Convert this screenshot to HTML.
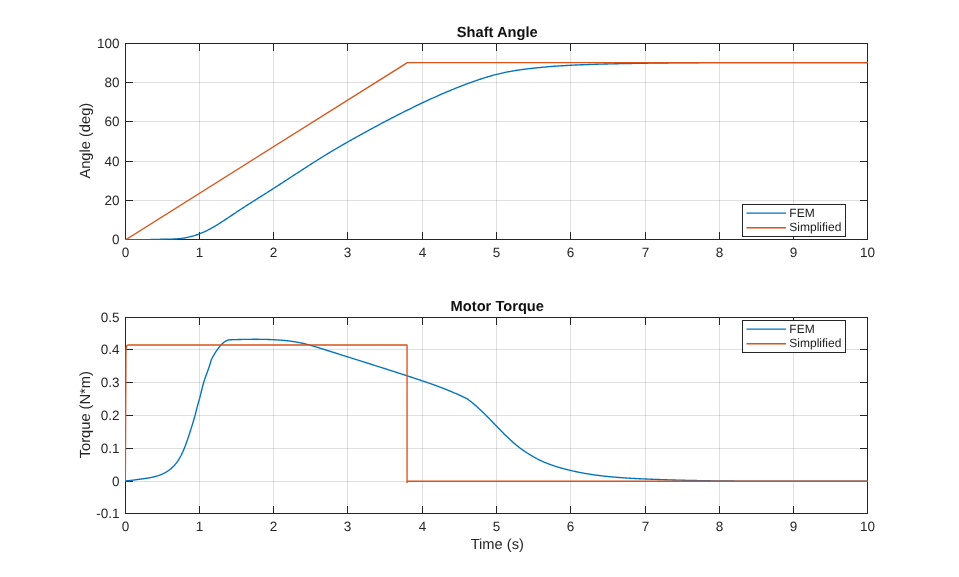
<!DOCTYPE html>
<html lang="en"><head><meta charset="utf-8"><title>Shaft Angle / Motor Torque</title>
<style>
html,body{margin:0;padding:0;background:#fff;}
body{width:959px;height:577px;overflow:hidden;font-family:"Liberation Sans", sans-serif;}
svg{display:block;will-change:transform;}
svg text{font-family:"Liberation Sans", sans-serif;text-rendering:geometricPrecision;}
.tk{font-size:13.5px;fill:#262626;}
.lb{font-size:14.67px;fill:#262626;}
.ti{font-size:14.67px;font-weight:bold;fill:#111;}
.lg{font-size:12px;fill:#1a1a1a;}
</style></head><body>
<svg width="959" height="577" viewBox="0 0 959 577" role="img" aria-label="Shaft Angle and Motor Torque versus Time, FEM and Simplified models">
<rect x="0" y="0" width="959" height="577" fill="#ffffff"/>
<!-- axes 1: Shaft Angle -->
<clipPath id="clip1"><rect x="125.0" y="43.0" width="743.0" height="197.0"/></clipPath>
<g stroke="#262626" stroke-opacity="0.15" stroke-width="1" shape-rendering="crispEdges">
<line x1="199.5" y1="43.5" x2="199.5" y2="239.5"/>
<line x1="273.5" y1="43.5" x2="273.5" y2="239.5"/>
<line x1="347.5" y1="43.5" x2="347.5" y2="239.5"/>
<line x1="422.5" y1="43.5" x2="422.5" y2="239.5"/>
<line x1="496.5" y1="43.5" x2="496.5" y2="239.5"/>
<line x1="570.5" y1="43.5" x2="570.5" y2="239.5"/>
<line x1="645.5" y1="43.5" x2="645.5" y2="239.5"/>
<line x1="719.5" y1="43.5" x2="719.5" y2="239.5"/>
<line x1="793.5" y1="43.5" x2="793.5" y2="239.5"/>
<line x1="125.5" y1="200.5" x2="867.5" y2="200.5"/>
<line x1="125.5" y1="161.5" x2="867.5" y2="161.5"/>
<line x1="125.5" y1="121.5" x2="867.5" y2="121.5"/>
<line x1="125.5" y1="82.5" x2="867.5" y2="82.5"/>
</g>
<g stroke="#262626" stroke-width="1" fill="none" shape-rendering="crispEdges">
<rect x="125.5" y="43.5" width="742.0" height="196.0"/>
<line x1="199.5" y1="239.5" x2="199.5" y2="232.1"/>
<line x1="199.5" y1="43.5" x2="199.5" y2="50.9"/>
<line x1="273.5" y1="239.5" x2="273.5" y2="232.1"/>
<line x1="273.5" y1="43.5" x2="273.5" y2="50.9"/>
<line x1="347.5" y1="239.5" x2="347.5" y2="232.1"/>
<line x1="347.5" y1="43.5" x2="347.5" y2="50.9"/>
<line x1="422.5" y1="239.5" x2="422.5" y2="232.1"/>
<line x1="422.5" y1="43.5" x2="422.5" y2="50.9"/>
<line x1="496.5" y1="239.5" x2="496.5" y2="232.1"/>
<line x1="496.5" y1="43.5" x2="496.5" y2="50.9"/>
<line x1="570.5" y1="239.5" x2="570.5" y2="232.1"/>
<line x1="570.5" y1="43.5" x2="570.5" y2="50.9"/>
<line x1="645.5" y1="239.5" x2="645.5" y2="232.1"/>
<line x1="645.5" y1="43.5" x2="645.5" y2="50.9"/>
<line x1="719.5" y1="239.5" x2="719.5" y2="232.1"/>
<line x1="719.5" y1="43.5" x2="719.5" y2="50.9"/>
<line x1="793.5" y1="239.5" x2="793.5" y2="232.1"/>
<line x1="793.5" y1="43.5" x2="793.5" y2="50.9"/>
<line x1="125.5" y1="200.5" x2="132.9" y2="200.5"/>
<line x1="867.5" y1="200.5" x2="860.1" y2="200.5"/>
<line x1="125.5" y1="161.5" x2="132.9" y2="161.5"/>
<line x1="867.5" y1="161.5" x2="860.1" y2="161.5"/>
<line x1="125.5" y1="121.5" x2="132.9" y2="121.5"/>
<line x1="867.5" y1="121.5" x2="860.1" y2="121.5"/>
<line x1="125.5" y1="82.5" x2="132.9" y2="82.5"/>
<line x1="867.5" y1="82.5" x2="860.1" y2="82.5"/>
</g>
<g fill="none" stroke-width="1.35" stroke-linejoin="round" stroke-linecap="round" clip-path="url(#clip1)">
<path stroke="#0072BD" d="M125.70,239.75 L126.76,239.75 L127.83,239.75 L128.89,239.75 L129.95,239.75 L131.02,239.75 L132.08,239.75 L133.14,239.75 L134.21,239.75 L135.27,239.75 L136.33,239.75 L137.40,239.75 L138.46,239.75 L139.52,239.75 L140.59,239.75 L141.65,239.75 L142.71,239.73 L143.77,239.71 L144.84,239.69 L145.90,239.66 L146.96,239.63 L148.03,239.60 L149.09,239.58 L150.15,239.55 L151.22,239.52 L152.28,239.49 L153.34,239.46 L154.41,239.43 L155.47,239.40 L156.53,239.38 L157.60,239.35 L158.66,239.33 L159.72,239.31 L160.79,239.29 L161.85,239.27 L162.91,239.25 L163.98,239.23 L165.04,239.22 L166.10,239.20 L167.17,239.18 L168.23,239.16 L169.29,239.14 L170.36,239.11 L171.42,239.08 L172.48,239.05 L173.55,239.01 L174.61,238.96 L175.67,238.91 L176.74,238.84 L177.80,238.77 L178.86,238.68 L179.92,238.57 L180.99,238.45 L182.05,238.32 L183.11,238.17 L184.18,238.00 L185.24,237.82 L186.30,237.62 L187.37,237.41 L188.43,237.18 L189.49,236.93 L190.56,236.67 L191.62,236.39 L192.68,236.09 L193.75,235.78 L194.81,235.46 L195.87,235.11 L196.94,234.75 L198.00,234.38 L199.06,233.99 L200.13,233.58 L201.19,233.15 L202.25,232.71 L203.32,232.25 L204.38,231.78 L205.44,231.29 L206.51,230.78 L207.57,230.26 L208.63,229.72 L209.70,229.16 L210.76,228.59 L211.82,228.00 L212.89,227.40 L213.95,226.79 L215.01,226.16 L216.07,225.52 L217.14,224.87 L218.20,224.21 L219.26,223.54 L220.33,222.87 L221.39,222.18 L222.45,221.49 L223.52,220.80 L224.58,220.09 L225.64,219.39 L226.71,218.68 L227.77,217.97 L228.83,217.25 L229.90,216.54 L230.96,215.82 L232.02,215.11 L233.09,214.39 L234.15,213.68 L235.21,212.97 L236.28,212.27 L237.34,211.56 L238.40,210.86 L239.47,210.16 L240.53,209.47 L241.59,208.78 L242.66,208.09 L243.72,207.40 L244.78,206.71 L245.85,206.03 L246.91,205.35 L247.97,204.66 L249.04,203.98 L250.10,203.31 L251.16,202.63 L252.22,201.95 L253.29,201.28 L254.35,200.61 L255.41,199.93 L256.48,199.26 L257.54,198.59 L258.60,197.92 L259.67,197.24 L260.73,196.57 L261.79,195.90 L262.86,195.23 L263.92,194.56 L264.98,193.89 L266.05,193.21 L267.11,192.54 L268.17,191.87 L269.24,191.19 L270.30,190.52 L271.36,189.84 L272.43,189.16 L273.49,188.48 L274.55,187.80 L275.62,187.12 L276.68,186.43 L277.74,185.75 L278.81,185.06 L279.87,184.37 L280.93,183.68 L282.00,182.99 L283.06,182.30 L284.12,181.61 L285.18,180.92 L286.25,180.23 L287.31,179.53 L288.37,178.84 L289.44,178.15 L290.50,177.45 L291.56,176.76 L292.63,176.06 L293.69,175.37 L294.75,174.68 L295.82,173.98 L296.88,173.29 L297.94,172.59 L299.01,171.90 L300.07,171.21 L301.13,170.52 L302.20,169.83 L303.26,169.14 L304.32,168.45 L305.39,167.76 L306.45,167.07 L307.51,166.39 L308.58,165.70 L309.64,165.02 L310.70,164.34 L311.77,163.66 L312.83,162.98 L313.89,162.30 L314.96,161.63 L316.02,160.96 L317.08,160.29 L318.15,159.62 L319.21,158.95 L320.27,158.28 L321.33,157.62 L322.40,156.96 L323.46,156.30 L324.52,155.65 L325.59,155.00 L326.65,154.35 L327.71,153.70 L328.78,153.06 L329.84,152.42 L330.90,151.78 L331.97,151.14 L333.03,150.51 L334.09,149.88 L335.16,149.25 L336.22,148.63 L337.28,148.00 L338.35,147.38 L339.41,146.76 L340.47,146.15 L341.54,145.53 L342.60,144.92 L343.66,144.31 L344.73,143.70 L345.79,143.09 L346.85,142.49 L347.92,141.88 L348.98,141.28 L350.04,140.68 L351.11,140.08 L352.17,139.48 L353.23,138.89 L354.30,138.29 L355.36,137.70 L356.42,137.10 L357.48,136.51 L358.55,135.92 L359.61,135.33 L360.67,134.74 L361.74,134.15 L362.80,133.57 L363.86,132.98 L364.93,132.40 L365.99,131.81 L367.05,131.23 L368.12,130.65 L369.18,130.07 L370.24,129.49 L371.31,128.91 L372.37,128.34 L373.43,127.76 L374.50,127.19 L375.56,126.62 L376.62,126.05 L377.69,125.48 L378.75,124.91 L379.81,124.34 L380.88,123.77 L381.94,123.21 L383.00,122.65 L384.07,122.09 L385.13,121.52 L386.19,120.97 L387.26,120.41 L388.32,119.85 L389.38,119.30 L390.45,118.75 L391.51,118.19 L392.57,117.64 L393.63,117.10 L394.70,116.55 L395.76,116.00 L396.82,115.46 L397.89,114.92 L398.95,114.38 L400.01,113.84 L401.08,113.30 L402.14,112.76 L403.20,112.23 L404.27,111.70 L405.33,111.17 L406.39,110.64 L407.46,110.11 L408.52,109.58 L409.58,109.06 L410.65,108.54 L411.71,108.02 L412.77,107.50 L413.84,106.98 L414.90,106.46 L415.96,105.95 L417.03,105.44 L418.09,104.93 L419.15,104.42 L420.22,103.92 L421.28,103.41 L422.34,102.91 L423.41,102.41 L424.47,101.91 L425.53,101.41 L426.59,100.92 L427.66,100.43 L428.72,99.94 L429.78,99.45 L430.85,98.96 L431.91,98.47 L432.97,97.99 L434.04,97.51 L435.10,97.03 L436.16,96.56 L437.23,96.08 L438.29,95.61 L439.35,95.14 L440.42,94.67 L441.48,94.21 L442.54,93.74 L443.61,93.28 L444.67,92.82 L445.73,92.37 L446.80,91.92 L447.86,91.46 L448.92,91.02 L449.99,90.57 L451.05,90.13 L452.11,89.69 L453.18,89.25 L454.24,88.82 L455.30,88.38 L456.37,87.96 L457.43,87.53 L458.49,87.11 L459.56,86.69 L460.62,86.27 L461.68,85.86 L462.74,85.45 L463.81,85.04 L464.87,84.64 L465.93,84.24 L467.00,83.84 L468.06,83.44 L469.12,83.05 L470.19,82.67 L471.25,82.28 L472.31,81.90 L473.38,81.53 L474.44,81.15 L475.50,80.79 L476.57,80.42 L477.63,80.06 L478.69,79.70 L479.76,79.35 L480.82,79.00 L481.88,78.65 L482.95,78.31 L484.01,77.98 L485.07,77.65 L486.14,77.32 L487.20,77.00 L488.26,76.68 L489.33,76.37 L490.39,76.06 L491.45,75.76 L492.52,75.47 L493.58,75.18 L494.64,74.89 L495.71,74.61 L496.77,74.34 L497.83,74.08 L498.89,73.82 L499.96,73.56 L501.02,73.32 L502.08,73.07 L503.15,72.84 L504.21,72.61 L505.27,72.39 L506.34,72.17 L507.40,71.96 L508.46,71.75 L509.53,71.55 L510.59,71.36 L511.65,71.17 L512.72,70.98 L513.78,70.80 L514.84,70.63 L515.91,70.46 L516.97,70.29 L518.03,70.13 L519.10,69.97 L520.16,69.81 L521.22,69.66 L522.29,69.52 L523.35,69.37 L524.41,69.23 L525.48,69.10 L526.54,68.96 L527.60,68.83 L528.67,68.70 L529.73,68.58 L530.79,68.46 L531.86,68.34 L532.92,68.22 L533.98,68.10 L535.04,67.99 L536.11,67.88 L537.17,67.77 L538.23,67.67 L539.30,67.56 L540.36,67.46 L541.42,67.36 L542.49,67.26 L543.55,67.16 L544.61,67.07 L545.68,66.97 L546.74,66.88 L547.80,66.79 L548.87,66.70 L549.93,66.62 L550.99,66.53 L552.06,66.45 L553.12,66.37 L554.18,66.29 L555.25,66.22 L556.31,66.14 L557.37,66.07 L558.44,65.99 L559.50,65.92 L560.56,65.85 L561.63,65.78 L562.69,65.72 L563.75,65.65 L564.82,65.59 L565.88,65.53 L566.94,65.47 L568.01,65.41 L569.07,65.35 L570.13,65.29 L571.19,65.24 L572.26,65.18 L573.32,65.13 L574.38,65.08 L575.45,65.03 L576.51,64.98 L577.57,64.93 L578.64,64.88 L579.70,64.84 L580.76,64.79 L581.83,64.75 L582.89,64.71 L583.95,64.67 L585.02,64.62 L586.08,64.59 L587.14,64.55 L588.21,64.51 L589.27,64.47 L590.33,64.44 L591.40,64.40 L592.46,64.37 L593.52,64.33 L594.59,64.30 L595.65,64.27 L596.71,64.24 L597.78,64.21 L598.84,64.18 L599.90,64.15 L600.97,64.12 L602.03,64.09 L603.09,64.06 L604.15,64.03 L605.22,64.01 L606.28,63.98 L607.34,63.96 L608.41,63.93 L609.47,63.91 L610.53,63.88 L611.60,63.86 L612.66,63.84 L613.72,63.81 L614.79,63.79 L615.85,63.77 L616.91,63.74 L617.98,63.72 L619.04,63.70 L620.10,63.68 L621.17,63.66 L622.23,63.64 L623.29,63.62 L624.36,63.60 L625.42,63.58 L626.48,63.56 L627.55,63.54 L628.61,63.52 L629.67,63.50 L630.74,63.48 L631.80,63.46 L632.86,63.44 L633.93,63.42 L634.99,63.41 L636.05,63.39 L637.12,63.37 L638.18,63.35 L639.24,63.34 L640.30,63.32 L641.37,63.30 L642.43,63.29 L643.49,63.27 L644.56,63.25 L645.62,63.24 L646.68,63.22 L647.75,63.21 L648.81,63.19 L649.87,63.18 L650.94,63.16 L652.00,63.15 L653.06,63.14 L654.13,63.12 L655.19,63.11 L656.25,63.09 L657.32,63.08 L658.38,63.07 L659.44,63.05 L660.51,63.04 L661.57,63.03 L662.63,63.02 L663.70,63.00 L664.76,62.99 L665.82,62.98 L666.89,62.97 L667.95,62.96 L669.01,62.95 L670.08,62.94 L671.14,62.93 L672.20,62.91 L673.27,62.90 L674.33,62.89 L675.39,62.88 L676.45,62.87 L677.52,62.86 L678.58,62.86 L679.64,62.85 L680.71,62.84 L681.77,62.83 L682.83,62.82 L683.90,62.81 L684.96,62.80 L686.02,62.79 L687.09,62.79 L688.15,62.78 L689.21,62.77 L690.28,62.76 L691.34,62.75 L692.40,62.75 L693.47,62.74 L694.53,62.73 L695.59,62.73 L696.66,62.72 L697.72,62.71 L698.78,62.71 L699.85,62.70 L700.91,62.69 L701.97,62.69 L703.04,62.68 L704.10,62.68 L705.16,62.67 L706.23,62.67 L707.29,62.66 L708.35,62.66 L709.42,62.65 L710.48,62.65 L711.54,62.64 L712.60,62.64 L713.67,62.63 L714.73,62.63 L715.79,62.62 L716.86,62.62 L717.92,62.62 L718.98,62.61 L720.05,62.61 L721.11,62.60 L722.17,62.60 L723.24,62.60 L724.30,62.59 L725.36,62.59 L726.43,62.59 L727.49,62.58 L728.55,62.58 L729.62,62.58 L730.68,62.58 L731.74,62.57 L732.81,62.57 L733.87,62.57 L734.93,62.57 L736.00,62.57 L737.06,62.57 L738.12,62.57 L739.19,62.57 L740.25,62.57 L741.31,62.57 L742.38,62.57 L743.44,62.57 L744.50,62.57 L745.56,62.57 L746.63,62.57 L747.69,62.57 L748.75,62.57 L749.82,62.57 L750.88,62.57 L751.94,62.57 L753.01,62.57 L754.07,62.57 L755.13,62.57 L756.20,62.57 L757.26,62.57 L758.32,62.57 L759.39,62.57 L760.45,62.57 L761.51,62.57 L762.58,62.57 L763.64,62.57 L764.70,62.57 L765.77,62.57 L766.83,62.57 L767.89,62.57 L768.96,62.57 L770.02,62.57 L771.08,62.57 L772.15,62.57 L773.21,62.57 L774.27,62.57 L775.34,62.57 L776.40,62.57 L777.46,62.57 L778.53,62.57 L779.59,62.57 L780.65,62.57 L781.71,62.57 L782.78,62.57 L783.84,62.57 L784.90,62.57 L785.97,62.57 L787.03,62.57 L788.09,62.57 L789.16,62.57 L790.22,62.57 L791.28,62.57 L792.35,62.57 L793.41,62.57 L794.47,62.57 L795.54,62.57 L796.60,62.57 L797.66,62.57 L798.73,62.57 L799.79,62.57 L800.85,62.57 L801.92,62.57 L802.98,62.57 L804.04,62.57 L805.11,62.57 L806.17,62.57 L807.23,62.57 L808.30,62.57 L809.36,62.57 L810.42,62.57 L811.49,62.57 L812.55,62.57 L813.61,62.57 L814.68,62.57 L815.74,62.57 L816.80,62.57 L817.86,62.58 L818.93,62.58 L819.99,62.58 L821.05,62.58 L822.12,62.58 L823.18,62.58 L824.24,62.58 L825.31,62.58 L826.37,62.58 L827.43,62.58 L828.50,62.58 L829.56,62.58 L830.62,62.58 L831.69,62.59 L832.75,62.59 L833.81,62.59 L834.88,62.59 L835.94,62.59 L837.00,62.59 L838.07,62.59 L839.13,62.59 L840.19,62.59 L841.26,62.59 L842.32,62.59 L843.38,62.59 L844.45,62.59 L845.51,62.59 L846.57,62.59 L847.64,62.59 L848.70,62.59 L849.76,62.59 L850.83,62.59 L851.89,62.59 L852.95,62.59 L854.01,62.59 L855.08,62.59 L856.14,62.58 L857.20,62.58 L858.27,62.58 L859.33,62.58 L860.39,62.58 L861.46,62.58 L862.52,62.58 L863.58,62.58 L864.65,62.58 L865.71,62.57 L866.77,62.57 L867.84,62.57 L868.90,62.57"/>
<path stroke="#D95319" d="M125.70,239.75 L407.37,62.57 L868.90,62.57"/>
</g>
<g class="tk">
<text x="125.5" y="256.8" text-anchor="middle">0</text>
<text x="199.5" y="256.8" text-anchor="middle">1</text>
<text x="273.5" y="256.8" text-anchor="middle">2</text>
<text x="347.5" y="256.8" text-anchor="middle">3</text>
<text x="422.5" y="256.8" text-anchor="middle">4</text>
<text x="496.5" y="256.8" text-anchor="middle">5</text>
<text x="570.5" y="256.8" text-anchor="middle">6</text>
<text x="645.5" y="256.8" text-anchor="middle">7</text>
<text x="719.5" y="256.8" text-anchor="middle">8</text>
<text x="793.5" y="256.8" text-anchor="middle">9</text>
<text x="867.5" y="256.8" text-anchor="middle">10</text>
<text x="119.5" y="244.2" text-anchor="end">0</text>
<text x="119.5" y="205.2" text-anchor="end">20</text>
<text x="119.5" y="166.2" text-anchor="end">40</text>
<text x="119.5" y="126.2" text-anchor="end">60</text>
<text x="119.5" y="87.2" text-anchor="end">80</text>
<text x="119.5" y="48.2" text-anchor="end">100</text>
</g>
<text class="ti" x="497.3" y="36.7" text-anchor="middle">Shaft Angle</text>
<text class="lb" transform="translate(89.9,140.7) rotate(-90)" text-anchor="middle">Angle (deg)</text>
<rect x="742.5" y="204.5" width="103" height="32" fill="#fff" stroke="#262626" stroke-width="1" shape-rendering="crispEdges"/>
<line x1="746.5" y1="213.1" x2="786" y2="213.1" stroke="#0072BD" stroke-width="1.35"/>
<line x1="746.5" y1="227.7" x2="786" y2="227.7" stroke="#D95319" stroke-width="1.35"/>
<text class="lg" x="789.3" y="216.70">FEM</text>
<text class="lg" x="789.3" y="231.45">Simplified</text>
<!-- axes 2: Motor Torque -->
<clipPath id="clip2"><rect x="125.0" y="317.0" width="743.0" height="197.0"/></clipPath>
<g stroke="#262626" stroke-opacity="0.15" stroke-width="1" shape-rendering="crispEdges">
<line x1="199.5" y1="317.5" x2="199.5" y2="513.5"/>
<line x1="273.5" y1="317.5" x2="273.5" y2="513.5"/>
<line x1="347.5" y1="317.5" x2="347.5" y2="513.5"/>
<line x1="422.5" y1="317.5" x2="422.5" y2="513.5"/>
<line x1="496.5" y1="317.5" x2="496.5" y2="513.5"/>
<line x1="570.5" y1="317.5" x2="570.5" y2="513.5"/>
<line x1="645.5" y1="317.5" x2="645.5" y2="513.5"/>
<line x1="719.5" y1="317.5" x2="719.5" y2="513.5"/>
<line x1="793.5" y1="317.5" x2="793.5" y2="513.5"/>
<line x1="125.5" y1="481.5" x2="867.5" y2="481.5"/>
<line x1="125.5" y1="448.5" x2="867.5" y2="448.5"/>
<line x1="125.5" y1="415.5" x2="867.5" y2="415.5"/>
<line x1="125.5" y1="382.5" x2="867.5" y2="382.5"/>
<line x1="125.5" y1="349.5" x2="867.5" y2="349.5"/>
</g>
<g stroke="#262626" stroke-width="1" fill="none" shape-rendering="crispEdges">
<rect x="125.5" y="317.5" width="742.0" height="196.0"/>
<line x1="199.5" y1="513.5" x2="199.5" y2="506.1"/>
<line x1="199.5" y1="317.5" x2="199.5" y2="324.9"/>
<line x1="273.5" y1="513.5" x2="273.5" y2="506.1"/>
<line x1="273.5" y1="317.5" x2="273.5" y2="324.9"/>
<line x1="347.5" y1="513.5" x2="347.5" y2="506.1"/>
<line x1="347.5" y1="317.5" x2="347.5" y2="324.9"/>
<line x1="422.5" y1="513.5" x2="422.5" y2="506.1"/>
<line x1="422.5" y1="317.5" x2="422.5" y2="324.9"/>
<line x1="496.5" y1="513.5" x2="496.5" y2="506.1"/>
<line x1="496.5" y1="317.5" x2="496.5" y2="324.9"/>
<line x1="570.5" y1="513.5" x2="570.5" y2="506.1"/>
<line x1="570.5" y1="317.5" x2="570.5" y2="324.9"/>
<line x1="645.5" y1="513.5" x2="645.5" y2="506.1"/>
<line x1="645.5" y1="317.5" x2="645.5" y2="324.9"/>
<line x1="719.5" y1="513.5" x2="719.5" y2="506.1"/>
<line x1="719.5" y1="317.5" x2="719.5" y2="324.9"/>
<line x1="793.5" y1="513.5" x2="793.5" y2="506.1"/>
<line x1="793.5" y1="317.5" x2="793.5" y2="324.9"/>
<line x1="125.5" y1="481.5" x2="132.9" y2="481.5"/>
<line x1="867.5" y1="481.5" x2="860.1" y2="481.5"/>
<line x1="125.5" y1="448.5" x2="132.9" y2="448.5"/>
<line x1="867.5" y1="448.5" x2="860.1" y2="448.5"/>
<line x1="125.5" y1="415.5" x2="132.9" y2="415.5"/>
<line x1="867.5" y1="415.5" x2="860.1" y2="415.5"/>
<line x1="125.5" y1="382.5" x2="132.9" y2="382.5"/>
<line x1="867.5" y1="382.5" x2="860.1" y2="382.5"/>
<line x1="125.5" y1="349.5" x2="132.9" y2="349.5"/>
<line x1="867.5" y1="349.5" x2="860.1" y2="349.5"/>
</g>
<g fill="none" stroke-width="1.35" stroke-linejoin="round" stroke-linecap="round" clip-path="url(#clip2)">
<path stroke="#0072BD" d="M125.70,480.81 L126.23,480.80 L126.77,480.77 L127.30,480.74 L127.84,480.71 L128.37,480.67 L128.91,480.62 L129.44,480.57 L129.98,480.52 L130.51,480.46 L131.05,480.40 L131.58,480.34 L132.12,480.27 L132.65,480.20 L133.19,480.13 L133.72,480.06 L134.26,479.99 L134.79,479.91 L135.33,479.84 L135.86,479.76 L136.39,479.69 L136.93,479.61 L137.46,479.54 L138.00,479.47 L138.53,479.39 L139.07,479.32 L139.60,479.25 L140.14,479.18 L140.67,479.11 L141.21,479.04 L141.74,478.97 L142.28,478.90 L142.81,478.83 L143.35,478.76 L143.88,478.68 L144.42,478.61 L144.95,478.53 L145.49,478.45 L146.02,478.37 L146.55,478.29 L147.09,478.21 L147.62,478.12 L148.16,478.04 L148.69,477.94 L149.23,477.85 L149.76,477.75 L150.30,477.65 L150.83,477.55 L151.37,477.44 L151.90,477.33 L152.44,477.21 L152.97,477.09 L153.51,476.97 L154.04,476.84 L154.58,476.70 L155.11,476.56 L155.65,476.41 L156.18,476.26 L156.71,476.10 L157.25,475.94 L157.78,475.77 L158.32,475.60 L158.85,475.41 L159.39,475.22 L159.92,475.03 L160.46,474.82 L160.99,474.61 L161.53,474.39 L162.06,474.16 L162.60,473.92 L163.13,473.68 L163.67,473.42 L164.20,473.15 L164.74,472.87 L165.27,472.58 L165.80,472.28 L166.34,471.96 L166.87,471.63 L167.41,471.29 L167.94,470.94 L168.48,470.57 L169.01,470.18 L169.55,469.78 L170.08,469.37 L170.62,468.94 L171.15,468.49 L171.69,468.02 L172.22,467.54 L172.76,467.03 L173.29,466.51 L173.83,465.96 L174.36,465.38 L174.90,464.78 L175.43,464.15 L175.96,463.49 L176.50,462.80 L177.03,462.07 L177.57,461.31 L178.10,460.52 L178.64,459.69 L179.17,458.82 L179.71,457.91 L180.24,456.97 L180.78,455.98 L181.31,454.95 L181.85,453.87 L182.38,452.75 L182.92,451.59 L183.45,450.38 L183.99,449.12 L184.52,447.81 L185.06,446.45 L185.59,445.04 L186.12,443.59 L186.66,442.10 L187.19,440.58 L187.73,439.01 L188.26,437.42 L188.80,435.80 L189.33,434.16 L189.87,432.50 L190.40,430.82 L190.94,429.12 L191.47,427.42 L192.01,425.71 L192.54,423.99 L193.08,422.26 L193.61,420.51 L194.15,418.70 L194.68,416.81 L195.22,414.83 L195.75,412.76 L196.28,410.63 L196.82,408.51 L197.35,406.44 L197.89,404.46 L198.42,402.57 L198.96,400.71 L199.49,398.81 L200.03,396.82 L200.56,394.70 L201.10,392.49 L201.63,390.26 L202.17,388.09 L202.70,386.03 L203.24,384.08 L203.77,382.23 L204.31,380.49 L204.84,378.85 L205.38,377.29 L205.91,375.80 L206.44,374.33 L206.98,372.89 L207.51,371.45 L208.05,369.98 L208.58,368.48 L209.12,366.93 L209.65,365.31 L210.19,363.60 L210.72,361.78 L211.26,359.84 L211.26,359.84 L211.81,358.78 L212.36,357.75 L212.91,356.74 L213.47,355.75 L214.02,354.79 L214.57,353.85 L215.12,352.94 L215.68,352.06 L216.23,351.20 L216.78,350.37 L217.33,349.56 L217.89,348.79 L218.44,348.04 L218.99,347.32 L219.54,346.63 L220.10,345.97 L220.65,345.34 L221.20,344.75 L221.75,344.18 L222.30,343.65 L222.86,343.14 L223.41,342.67 L223.96,342.24 L224.51,341.83 L225.07,341.46 L225.62,341.13 L226.17,340.83 L226.72,340.57 L227.28,340.34 L227.83,340.15 L228.38,340.00 L228.93,339.88 L229.49,339.80 L230.04,339.76 L230.04,339.76 L230.57,339.75 L231.10,339.73 L231.63,339.71 L232.17,339.70 L232.70,339.68 L233.23,339.67 L233.76,339.65 L234.30,339.63 L234.83,339.62 L235.36,339.60 L235.89,339.59 L236.43,339.58 L236.96,339.56 L237.49,339.55 L238.02,339.53 L238.55,339.52 L239.09,339.51 L239.62,339.49 L240.15,339.48 L240.68,339.47 L241.22,339.46 L241.75,339.45 L242.28,339.43 L242.81,339.42 L243.34,339.41 L243.88,339.40 L244.41,339.39 L244.94,339.38 L245.47,339.37 L246.01,339.36 L246.54,339.36 L247.07,339.35 L247.60,339.34 L248.14,339.33 L248.67,339.33 L249.20,339.32 L249.73,339.31 L250.26,339.31 L250.80,339.30 L251.33,339.30 L251.86,339.30 L252.39,339.29 L252.93,339.29 L253.46,339.29 L253.99,339.29 L254.52,339.28 L255.06,339.28 L255.59,339.28 L256.12,339.29 L256.65,339.29 L257.18,339.29 L257.72,339.29 L258.25,339.29 L258.78,339.30 L259.31,339.30 L259.85,339.31 L260.38,339.31 L260.91,339.32 L261.44,339.33 L261.97,339.33 L262.51,339.34 L263.04,339.35 L263.57,339.36 L264.10,339.37 L264.64,339.38 L265.17,339.40 L265.70,339.41 L266.23,339.42 L266.77,339.44 L267.30,339.45 L267.83,339.47 L268.36,339.49 L268.89,339.50 L269.43,339.52 L269.96,339.54 L270.49,339.56 L271.02,339.58 L271.56,339.60 L272.09,339.63 L272.62,339.65 L273.15,339.68 L273.68,339.70 L274.22,339.73 L274.75,339.76 L275.28,339.78 L275.81,339.81 L276.35,339.84 L276.88,339.88 L277.41,339.91 L277.94,339.94 L278.48,339.98 L279.01,340.02 L279.54,340.05 L280.07,340.09 L280.60,340.13 L281.14,340.18 L281.67,340.22 L282.20,340.26 L282.73,340.31 L283.27,340.36 L283.80,340.41 L284.33,340.46 L284.86,340.51 L285.40,340.56 L285.93,340.62 L286.46,340.67 L286.99,340.73 L287.52,340.79 L288.06,340.85 L288.59,340.92 L289.12,340.98 L289.65,341.05 L290.19,341.12 L290.72,341.19 L291.25,341.26 L291.78,341.34 L292.31,341.41 L292.85,341.49 L293.38,341.57 L293.91,341.65 L294.44,341.74 L294.98,341.82 L295.51,341.91 L296.04,342.00 L296.57,342.10 L297.11,342.19 L297.64,342.29 L298.17,342.39 L298.70,342.49 L299.23,342.59 L299.77,342.70 L300.30,342.81 L300.83,342.92 L301.36,343.03 L301.90,343.15 L302.43,343.26 L302.96,343.39 L303.49,343.51 L304.02,343.63 L304.56,343.76 L305.09,343.89 L305.62,344.02 L306.15,344.16 L306.69,344.29 L307.22,344.43 L307.75,344.57 L308.28,344.71 L308.82,344.86 L309.35,345.00 L309.88,345.15 L310.41,345.30 L310.94,345.45 L311.48,345.60 L312.01,345.75 L312.54,345.91 L313.07,346.06 L313.61,346.22 L314.14,346.37 L314.67,346.53 L315.20,346.69 L315.74,346.85 L316.27,347.02 L316.80,347.18 L317.33,347.34 L317.86,347.50 L318.40,347.67 L318.93,347.83 L319.46,348.00 L319.99,348.17 L320.53,348.33 L321.06,348.50 L321.59,348.67 L322.12,348.83 L322.65,349.00 L323.19,349.17 L323.72,349.33 L324.25,349.50 L324.78,349.67 L325.32,349.84 L325.85,350.00 L326.38,350.17 L326.91,350.34 L327.45,350.50 L327.98,350.67 L328.51,350.84 L329.04,351.01 L329.57,351.17 L330.11,351.34 L330.64,351.51 L331.17,351.67 L331.70,351.84 L332.24,352.01 L332.77,352.17 L333.30,352.34 L333.83,352.51 L334.37,352.68 L334.90,352.84 L335.43,353.01 L335.96,353.18 L336.49,353.35 L337.03,353.51 L337.56,353.68 L338.09,353.85 L338.62,354.01 L339.16,354.18 L339.69,354.35 L340.22,354.52 L340.75,354.68 L341.28,354.85 L341.82,355.02 L342.35,355.18 L342.88,355.35 L343.41,355.52 L343.95,355.69 L344.48,355.85 L345.01,356.02 L345.54,356.19 L346.08,356.36 L346.61,356.52 L347.14,356.69 L347.67,356.86 L348.20,357.03 L348.74,357.19 L349.27,357.36 L349.80,357.53 L350.33,357.70 L350.87,357.86 L351.40,358.03 L351.93,358.20 L352.46,358.37 L352.99,358.53 L353.53,358.70 L354.06,358.87 L354.59,359.04 L355.12,359.21 L355.66,359.37 L356.19,359.54 L356.72,359.71 L357.25,359.88 L357.79,360.04 L358.32,360.21 L358.85,360.38 L359.38,360.55 L359.91,360.72 L360.45,360.88 L360.98,361.05 L361.51,361.22 L362.04,361.39 L362.58,361.56 L363.11,361.73 L363.64,361.89 L364.17,362.06 L364.71,362.23 L365.24,362.40 L365.77,362.57 L366.30,362.74 L366.83,362.90 L367.37,363.07 L367.90,363.24 L368.43,363.41 L368.96,363.58 L369.50,363.75 L370.03,363.92 L370.56,364.08 L371.09,364.25 L371.62,364.42 L372.16,364.59 L372.69,364.76 L373.22,364.93 L373.75,365.10 L374.29,365.27 L374.82,365.44 L375.35,365.61 L375.88,365.78 L376.42,365.94 L376.95,366.11 L377.48,366.28 L378.01,366.45 L378.54,366.62 L379.08,366.79 L379.61,366.96 L380.14,367.13 L380.67,367.30 L381.21,367.47 L381.74,367.64 L382.27,367.81 L382.80,367.98 L383.33,368.15 L383.87,368.32 L384.40,368.49 L384.93,368.66 L385.46,368.83 L386.00,369.00 L386.53,369.17 L387.06,369.34 L387.59,369.51 L388.13,369.68 L388.66,369.85 L389.19,370.02 L389.72,370.19 L390.25,370.36 L390.79,370.53 L391.32,370.71 L391.85,370.88 L392.38,371.05 L392.92,371.22 L393.45,371.39 L393.98,371.56 L394.51,371.73 L395.05,371.90 L395.58,372.07 L396.11,372.25 L396.64,372.42 L397.17,372.59 L397.71,372.76 L398.24,372.93 L398.77,373.10 L399.30,373.28 L399.84,373.45 L400.37,373.62 L400.90,373.79 L401.43,373.96 L401.96,374.14 L402.50,374.31 L403.03,374.48 L403.56,374.65 L404.09,374.83 L404.63,375.00 L405.16,375.17 L405.69,375.34 L406.22,375.52 L406.76,375.69 L407.29,375.86 L407.82,376.03 L408.35,376.21 L408.88,376.38 L409.42,376.55 L409.95,376.73 L410.48,376.90 L411.01,377.07 L411.55,377.25 L412.08,377.42 L412.61,377.60 L413.14,377.77 L413.67,377.95 L414.21,378.12 L414.74,378.30 L415.27,378.47 L415.80,378.65 L416.34,378.82 L416.87,379.00 L417.40,379.18 L417.93,379.35 L418.47,379.53 L419.00,379.71 L419.53,379.88 L420.06,380.06 L420.59,380.24 L421.13,380.42 L421.66,380.60 L422.19,380.78 L422.72,380.96 L423.26,381.14 L423.79,381.32 L424.32,381.50 L424.85,381.68 L425.39,381.87 L425.92,382.05 L426.45,382.23 L426.98,382.42 L427.51,382.60 L428.05,382.79 L428.58,382.97 L429.11,383.16 L429.64,383.35 L430.18,383.53 L430.71,383.72 L431.24,383.91 L431.77,384.10 L432.30,384.29 L432.84,384.48 L433.37,384.67 L433.90,384.86 L434.43,385.05 L434.97,385.25 L435.50,385.44 L436.03,385.64 L436.56,385.83 L437.10,386.03 L437.63,386.23 L438.16,386.42 L438.69,386.62 L439.22,386.82 L439.76,387.02 L440.29,387.22 L440.82,387.43 L441.35,387.63 L441.89,387.83 L442.42,388.04 L442.95,388.24 L443.48,388.45 L444.02,388.66 L444.55,388.87 L445.08,389.08 L445.61,389.29 L446.14,389.50 L446.68,389.71 L447.21,389.92 L447.74,390.14 L448.27,390.35 L448.81,390.57 L449.34,390.79 L449.87,391.00 L450.40,391.22 L450.93,391.45 L451.47,391.67 L452.00,391.89 L452.53,392.11 L453.06,392.34 L453.60,392.57 L454.13,392.79 L454.66,393.02 L455.19,393.25 L455.73,393.48 L456.26,393.72 L456.79,393.95 L457.32,394.18 L457.85,394.42 L458.39,394.66 L458.92,394.90 L459.45,395.14 L459.98,395.38 L460.52,395.62 L461.05,395.86 L461.58,396.11 L462.11,396.36 L462.64,396.60 L463.18,396.85 L463.71,397.10 L464.24,397.36 L464.77,397.61 L465.31,397.87 L465.84,398.12 L466.37,398.38 L466.90,398.64 L466.90,398.64 L467.43,399.02 L467.97,399.40 L468.50,399.80 L469.03,400.19 L469.56,400.60 L470.09,401.01 L470.63,401.42 L471.16,401.84 L471.69,402.27 L472.22,402.70 L472.75,403.13 L473.28,403.57 L473.82,404.02 L474.35,404.47 L474.88,404.92 L475.41,405.38 L475.94,405.85 L476.47,406.32 L477.01,406.79 L477.54,407.26 L478.07,407.75 L478.60,408.23 L479.13,408.72 L479.66,409.21 L480.20,409.71 L480.73,410.21 L481.26,410.71 L481.79,411.21 L482.32,411.72 L482.86,412.24 L483.39,412.75 L483.92,413.27 L484.45,413.79 L484.98,414.31 L485.51,414.84 L486.05,415.37 L486.58,415.90 L487.11,416.43 L487.64,416.97 L488.17,417.50 L488.70,418.04 L489.24,418.58 L489.77,419.13 L490.30,419.67 L490.83,420.22 L491.36,420.76 L491.89,421.31 L492.43,421.86 L492.96,422.41 L493.49,422.96 L494.02,423.51 L494.55,424.06 L495.09,424.62 L495.62,425.17 L496.15,425.72 L496.68,426.27 L497.21,426.82 L497.74,427.37 L498.28,427.93 L498.81,428.48 L499.34,429.02 L499.87,429.57 L500.40,430.12 L500.93,430.66 L501.47,431.21 L502.00,431.75 L502.53,432.29 L503.06,432.83 L503.59,433.36 L504.13,433.90 L504.66,434.43 L505.19,434.96 L505.72,435.48 L506.25,436.00 L506.78,436.52 L507.32,437.04 L507.85,437.55 L508.38,438.06 L508.91,438.57 L509.44,439.07 L509.97,439.57 L510.51,440.06 L511.04,440.55 L511.57,441.03 L512.10,441.51 L512.63,441.99 L513.16,442.46 L513.70,442.92 L514.23,443.38 L514.76,443.84 L515.29,444.29 L515.82,444.73 L516.36,445.17 L516.89,445.60 L517.42,446.02 L517.95,446.44 L518.48,446.86 L519.01,447.27 L519.55,447.67 L520.08,448.07 L520.61,448.46 L521.14,448.85 L521.67,449.24 L522.20,449.62 L522.74,449.99 L523.27,450.36 L523.80,450.73 L524.33,451.09 L524.86,451.45 L525.39,451.81 L525.93,452.16 L526.46,452.51 L526.99,452.85 L527.52,453.20 L528.05,453.53 L528.59,453.87 L529.12,454.20 L529.65,454.53 L530.18,454.85 L530.71,455.17 L531.24,455.49 L531.78,455.81 L532.31,456.12 L532.84,456.42 L533.37,456.73 L533.90,457.03 L534.43,457.32 L534.97,457.62 L535.50,457.91 L536.03,458.19 L536.56,458.48 L537.09,458.75 L537.62,459.03 L538.16,459.30 L538.69,459.57 L539.22,459.83 L539.75,460.09 L540.28,460.35 L540.82,460.60 L541.35,460.85 L541.88,461.10 L542.41,461.34 L542.94,461.58 L543.47,461.82 L544.01,462.05 L544.54,462.28 L545.07,462.50 L545.60,462.72 L546.13,462.94 L546.66,463.16 L547.20,463.37 L547.73,463.58 L548.26,463.79 L548.79,463.99 L549.32,464.19 L549.85,464.39 L550.39,464.58 L550.92,464.77 L551.45,464.96 L551.98,465.15 L552.51,465.33 L553.05,465.51 L553.58,465.69 L554.11,465.87 L554.64,466.05 L555.17,466.22 L555.70,466.39 L556.24,466.56 L556.77,466.72 L557.30,466.88 L557.83,467.05 L558.36,467.21 L558.89,467.36 L559.43,467.52 L559.96,467.67 L560.49,467.83 L561.02,467.98 L561.55,468.13 L562.08,468.28 L562.62,468.42 L563.15,468.57 L563.68,468.71 L564.21,468.85 L564.74,468.99 L565.28,469.13 L565.81,469.27 L566.34,469.41 L566.87,469.54 L567.40,469.68 L567.93,469.81 L568.47,469.94 L569.00,470.07 L569.53,470.20 L570.06,470.33 L570.59,470.45 L571.12,470.58 L571.66,470.70 L572.19,470.82 L572.72,470.94 L573.25,471.06 L573.78,471.18 L574.31,471.30 L574.85,471.42 L575.38,471.53 L575.91,471.64 L576.44,471.76 L576.97,471.87 L577.51,471.98 L578.04,472.08 L578.57,472.19 L579.10,472.30 L579.63,472.40 L580.16,472.51 L580.70,472.61 L581.23,472.71 L581.76,472.81 L582.29,472.91 L582.82,473.01 L583.35,473.11 L583.89,473.20 L584.42,473.30 L584.95,473.39 L585.48,473.48 L586.01,473.57 L586.55,473.67 L587.08,473.75 L587.61,473.84 L588.14,473.93 L588.67,474.02 L589.20,474.10 L589.74,474.19 L590.27,474.27 L590.80,474.35 L591.33,474.43 L591.86,474.51 L592.39,474.59 L592.93,474.67 L593.46,474.75 L593.99,474.83 L594.52,474.90 L595.05,474.98 L595.58,475.05 L596.12,475.12 L596.65,475.19 L597.18,475.27 L597.71,475.34 L598.24,475.40 L598.78,475.47 L599.31,475.54 L599.84,475.61 L600.37,475.67 L600.90,475.74 L601.43,475.80 L601.97,475.86 L602.50,475.93 L603.03,475.99 L603.56,476.05 L604.09,476.11 L604.62,476.17 L605.16,476.23 L605.69,476.28 L606.22,476.34 L606.75,476.40 L607.28,476.45 L607.81,476.51 L608.35,476.56 L608.88,476.61 L609.41,476.67 L609.94,476.72 L610.47,476.77 L611.01,476.82 L611.54,476.87 L612.07,476.92 L612.60,476.97 L613.13,477.01 L613.66,477.06 L614.20,477.11 L614.73,477.15 L615.26,477.20 L615.79,477.24 L616.32,477.29 L616.85,477.33 L617.39,477.37 L617.92,477.41 L618.45,477.46 L618.98,477.50 L619.51,477.54 L620.04,477.58 L620.58,477.62 L621.11,477.66 L621.64,477.69 L622.17,477.73 L622.70,477.77 L623.24,477.81 L623.77,477.84 L624.30,477.88 L624.83,477.91 L625.36,477.95 L625.89,477.98 L626.43,478.01 L626.96,478.05 L627.49,478.08 L628.02,478.11 L628.55,478.15 L629.08,478.18 L629.62,478.21 L630.15,478.24 L630.68,478.27 L631.21,478.30 L631.74,478.33 L632.27,478.36 L632.81,478.39 L633.34,478.42 L633.87,478.44 L634.40,478.47 L634.93,478.50 L635.47,478.53 L636.00,478.55 L636.53,478.58 L637.06,478.61 L637.59,478.63 L638.12,478.66 L638.66,478.68 L639.19,478.71 L639.72,478.74 L640.25,478.76 L640.78,478.78 L641.31,478.81 L641.85,478.83 L642.38,478.86 L642.91,478.88 L643.44,478.90 L643.97,478.93 L644.50,478.95 L645.04,478.97 L645.57,479.00 L646.10,479.02 L646.63,479.04 L647.16,479.06 L647.70,479.09 L648.23,479.11 L648.76,479.13 L649.29,479.15 L649.82,479.17 L650.35,479.19 L650.89,479.21 L651.42,479.24 L651.95,479.26 L652.48,479.28 L653.01,479.30 L653.54,479.32 L654.08,479.34 L654.61,479.36 L655.14,479.38 L655.67,479.40 L656.20,479.42 L656.73,479.44 L657.27,479.46 L657.80,479.48 L658.33,479.50 L658.86,479.52 L659.39,479.53 L659.93,479.55 L660.46,479.57 L660.99,479.59 L661.52,479.61 L662.05,479.63 L662.58,479.65 L663.12,479.66 L663.65,479.68 L664.18,479.70 L664.71,479.72 L665.24,479.73 L665.77,479.75 L666.31,479.77 L666.84,479.79 L667.37,479.80 L667.90,479.82 L668.43,479.84 L668.97,479.85 L669.50,479.87 L670.03,479.89 L670.56,479.90 L671.09,479.92 L671.62,479.93 L672.16,479.95 L672.69,479.96 L673.22,479.98 L673.75,480.00 L674.28,480.01 L674.81,480.03 L675.35,480.04 L675.88,480.06 L676.41,480.07 L676.94,480.09 L677.47,480.10 L678.00,480.11 L678.54,480.13 L679.07,480.14 L679.60,480.16 L680.13,480.17 L680.66,480.18 L681.20,480.20 L681.73,480.21 L682.26,480.22 L682.79,480.24 L683.32,480.25 L683.85,480.26 L684.39,480.28 L684.92,480.29 L685.45,480.30 L685.98,480.32 L686.51,480.33 L687.04,480.34 L687.58,480.35 L688.11,480.36 L688.64,480.38 L689.17,480.39 L689.70,480.40 L690.23,480.41 L690.77,480.42 L691.30,480.44 L691.83,480.45 L692.36,480.46 L692.89,480.47 L693.43,480.48 L693.96,480.49 L694.49,480.50 L695.02,480.51 L695.55,480.52 L696.08,480.53 L696.62,480.54 L697.15,480.55 L697.68,480.56 L698.21,480.57 L698.74,480.58 L699.27,480.59 L699.81,480.60 L700.34,480.61 L700.87,480.62 L701.40,480.63 L701.93,480.64 L702.46,480.65 L703.00,480.66 L703.53,480.67 L704.06,480.68 L704.59,480.69 L705.12,480.70 L705.66,480.71 L706.19,480.71 L706.72,480.72 L707.25,480.73 L707.78,480.74 L708.31,480.75 L708.85,480.76 L709.38,480.76 L709.91,480.77 L710.44,480.78 L710.97,480.79 L711.50,480.80 L712.04,480.80 L712.57,480.81 L713.10,480.82 L713.63,480.83 L714.16,480.83 L714.69,480.84 L715.23,480.85 L715.76,480.85 L716.29,480.86 L716.82,480.87 L717.35,480.87 L717.89,480.88 L718.42,480.89 L718.95,480.89 L719.48,480.90 L720.01,480.91 L720.54,480.91 L721.08,480.92 L721.61,480.92 L722.14,480.93 L722.67,480.94 L723.20,480.94 L723.73,480.95 L724.27,480.95 L724.80,480.96 L725.33,480.96 L725.86,480.97 L726.39,480.98 L726.92,480.98 L727.46,480.99 L727.99,480.99 L728.52,481.00 L729.05,481.00 L729.58,481.01 L730.12,481.01 L730.65,481.02 L731.18,481.02 L731.71,481.02 L732.24,481.03 L732.77,481.03 L733.31,481.04 L733.84,481.04 L734.37,481.05 L734.90,481.05 L735.43,481.06 L735.96,481.06 L736.50,481.06 L737.03,481.07 L737.56,481.07 L738.09,481.07 L738.62,481.08 L739.15,481.08 L739.69,481.09 L740.22,481.09 L740.75,481.09 L741.28,481.10 L741.81,481.10 L742.35,481.10 L742.88,481.11 L743.41,481.11 L743.94,481.11 L744.47,481.12 L745.00,481.12 L745.54,481.12 L746.07,481.12 L746.60,481.13 L747.13,481.13 L747.66,481.13 L748.19,481.13 L748.73,481.14 L749.26,481.14 L749.79,481.14 L750.32,481.14 L750.85,481.15 L751.39,481.15 L751.92,481.15 L752.45,481.15 L752.98,481.16 L753.51,481.16 L754.04,481.16 L754.58,481.16 L755.11,481.16 L755.64,481.17 L756.17,481.17 L756.70,481.17 L757.23,481.17 L757.77,481.17 L758.30,481.17 L758.83,481.18 L759.36,481.18 L759.89,481.18 L760.42,481.18 L760.96,481.18 L761.49,481.18 L762.02,481.18 L762.55,481.19 L763.08,481.19 L763.62,481.19 L764.15,481.19 L764.68,481.19 L765.21,481.19 L765.74,481.19 L766.27,481.19 L766.81,481.19 L767.34,481.20 L767.87,481.20 L768.40,481.20 L768.93,481.20 L769.46,481.20 L770.00,481.20 L770.53,481.20 L771.06,481.20 L771.59,481.20 L772.12,481.20 L772.65,481.20 L773.19,481.20 L773.72,481.20 L774.25,481.20 L774.78,481.20 L775.31,481.21 L775.85,481.21 L776.38,481.21 L776.91,481.21 L777.44,481.21 L777.97,481.21 L778.50,481.21 L779.04,481.21 L779.57,481.21 L780.10,481.21 L780.63,481.21 L781.16,481.21 L781.69,481.21 L782.23,481.21 L782.76,481.21 L783.29,481.21 L783.82,481.21 L784.35,481.21 L784.88,481.21 L785.42,481.21 L785.95,481.21 L786.48,481.21 L787.01,481.21 L787.54,481.21 L788.08,481.21 L788.61,481.21 L789.14,481.21 L789.67,481.21 L790.20,481.21 L790.73,481.21 L791.27,481.21 L791.80,481.20 L792.33,481.20 L792.86,481.20 L793.39,481.20 L793.92,481.20 L794.46,481.20 L794.99,481.20 L795.52,481.20 L796.05,481.20 L796.58,481.20 L797.11,481.20 L797.65,481.20 L798.18,481.20 L798.71,481.20 L799.24,481.20 L799.77,481.20 L800.31,481.20 L800.84,481.20 L801.37,481.20 L801.90,481.20 L802.43,481.20 L802.96,481.20 L803.50,481.19 L804.03,481.19 L804.56,481.19 L805.09,481.19 L805.62,481.19 L806.15,481.19 L806.69,481.19 L807.22,481.19 L807.75,481.19 L808.28,481.19 L808.81,481.19 L809.34,481.19 L809.88,481.19 L810.41,481.19 L810.94,481.19 L811.47,481.19 L812.00,481.19 L812.54,481.19 L813.07,481.19 L813.60,481.18 L814.13,481.18 L814.66,481.18 L815.19,481.18 L815.73,481.18 L816.26,481.18 L816.79,481.18 L817.32,481.18 L817.85,481.18 L818.38,481.18 L818.92,481.18 L819.45,481.18 L819.98,481.18 L820.51,481.18 L821.04,481.18 L821.57,481.18 L822.11,481.18 L822.64,481.18 L823.17,481.18 L823.70,481.18 L824.23,481.18 L824.77,481.18 L825.30,481.18 L825.83,481.17 L826.36,481.17 L826.89,481.17 L827.42,481.17 L827.96,481.17 L828.49,481.17 L829.02,481.17 L829.55,481.17 L830.08,481.17 L830.61,481.17 L831.15,481.17 L831.68,481.17 L832.21,481.17 L832.74,481.17 L833.27,481.17 L833.81,481.17 L834.34,481.17 L834.87,481.17 L835.40,481.17 L835.93,481.17 L836.46,481.17 L837.00,481.17 L837.53,481.17 L838.06,481.17 L838.59,481.17 L839.12,481.17 L839.65,481.17 L840.19,481.18 L840.72,481.18 L841.25,481.18 L841.78,481.18 L842.31,481.18 L842.84,481.18 L843.38,481.18 L843.91,481.18 L844.44,481.18 L844.97,481.18 L845.50,481.18 L846.04,481.18 L846.57,481.18 L847.10,481.18 L847.63,481.18 L848.16,481.18 L848.69,481.19 L849.23,481.19 L849.76,481.19 L850.29,481.19 L850.82,481.19 L851.35,481.19 L851.88,481.19 L852.42,481.19 L852.95,481.19 L853.48,481.19 L854.01,481.20 L854.54,481.20 L855.07,481.20 L855.61,481.20 L856.14,481.20 L856.67,481.20 L857.20,481.20 L857.73,481.21 L858.27,481.21 L858.80,481.21 L859.33,481.21 L859.86,481.21 L860.39,481.22 L860.92,481.22 L861.46,481.22 L861.99,481.22 L862.52,481.22 L863.05,481.23 L863.58,481.23 L864.11,481.23 L864.65,481.23 L865.18,481.23 L865.71,481.24 L866.24,481.24 L866.77,481.24 L867.30,481.24 L867.84,481.25 L868.37,481.25 L868.90,481.25"/>
<path stroke="#D95319" d="M125.35,481.14 L125.95,351.0 L126.25,347.6 L126.9,345.7 L128.0,345.04 L407.04,345.04 L407.04,482.45 L407.93,481.25 L868.90,481.25"/>
</g>
<g class="tk">
<text x="125.5" y="530.8" text-anchor="middle">0</text>
<text x="199.5" y="530.8" text-anchor="middle">1</text>
<text x="273.5" y="530.8" text-anchor="middle">2</text>
<text x="347.5" y="530.8" text-anchor="middle">3</text>
<text x="422.5" y="530.8" text-anchor="middle">4</text>
<text x="496.5" y="530.8" text-anchor="middle">5</text>
<text x="570.5" y="530.8" text-anchor="middle">6</text>
<text x="645.5" y="530.8" text-anchor="middle">7</text>
<text x="719.5" y="530.8" text-anchor="middle">8</text>
<text x="793.5" y="530.8" text-anchor="middle">9</text>
<text x="867.5" y="530.8" text-anchor="middle">10</text>
<text x="119.5" y="518.2" text-anchor="end">-0.1</text>
<text x="119.5" y="486.2" text-anchor="end">0</text>
<text x="119.5" y="453.2" text-anchor="end">0.1</text>
<text x="119.5" y="420.2" text-anchor="end">0.2</text>
<text x="119.5" y="387.2" text-anchor="end">0.3</text>
<text x="119.5" y="354.2" text-anchor="end">0.4</text>
<text x="119.5" y="322.2" text-anchor="end">0.5</text>
</g>
<text class="ti" x="497.3" y="310.7" text-anchor="middle">Motor Torque</text>
<text class="lb" transform="translate(89.9,414.7) rotate(-90)" text-anchor="middle">Torque (N*m)</text>
<text class="lb" x="497.3" y="548.5" text-anchor="middle">Time (s)</text>
<rect x="742.5" y="320.5" width="103" height="32" fill="#fff" stroke="#262626" stroke-width="1" shape-rendering="crispEdges"/>
<line x1="746.5" y1="329.1" x2="786" y2="329.1" stroke="#0072BD" stroke-width="1.35"/>
<line x1="746.5" y1="343.7" x2="786" y2="343.7" stroke="#D95319" stroke-width="1.35"/>
<text class="lg" x="789.3" y="332.70">FEM</text>
<text class="lg" x="789.3" y="347.45">Simplified</text>
</svg>
</body></html>
